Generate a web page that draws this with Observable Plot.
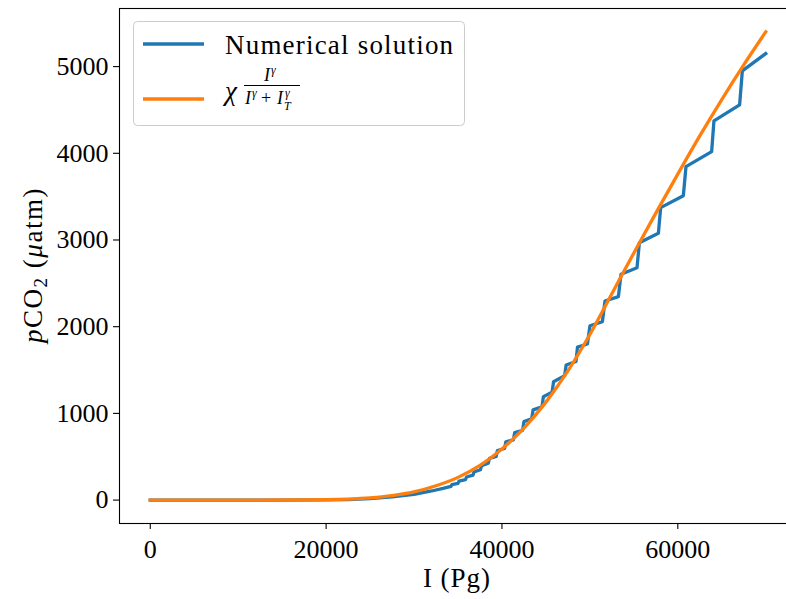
<!DOCTYPE html>
<html>
<head>
<meta charset="utf-8">
<script src="https://cdn.jsdelivr.net/npm/d3@7"></script>
<script src="https://cdn.jsdelivr.net/npm/@observablehq/plot@0.6"></script>
<style>
  html, body { margin: 0; padding: 0; background: white; }
  #wrap { position: relative; width: 786px; height: 599px; overflow: hidden; background: white; }
  #overlay { position: absolute; left: 0; top: 0; }
</style>
</head>
<body>
<div id="wrap"></div>
<script>
// Fitted curve: chi * I^g / (I^g + I_T^g)
const orangeI = [0, 5000, 10000, 15000, 20000, 22500, 25000, 27500, 30000, 32500, 35000, 37500, 40000, 42500, 45000, 47500, 50000, 52500, 55000, 57500, 60000, 62500, 65000, 67500, 70000];
const orangeP = [0, 0, 0, 1, 5, 12, 26, 52, 95, 165, 262, 400, 590, 830, 1130, 1490, 1910, 2380, 2850, 3310, 3760, 4200, 4620, 5020, 5400];

// Numerical solution (stepped), vertices
const blueI = [0, 10000, 15000, 20000, 22500, 25000, 27500, 30000, 32000, 33300,
  34200, 34300, 35000, 35110, 35850, 35970, 36700, 36820, 37550, 37680,
  38450, 38580, 39350, 39480, 40300, 40440, 41300, 41450, 42350, 42500,
  43380, 43540, 44550, 44710, 45700, 45870, 47130, 47300, 48420, 48590,
  49720, 50010, 51420, 51720, 53240, 53540, 55360, 55630, 57790, 58050,
  60630, 60930, 63850, 64110, 67030, 67340, 70000];
const blueP = [0, 0, 0, 2, 6, 17, 36, 65, 105, 135,
  158, 178, 192, 218, 236, 266, 288, 324, 350, 398,
  425, 482, 505, 572, 595, 672, 695, 778, 805, 905,
  938, 1040, 1075, 1192, 1245, 1365, 1435, 1558, 1598, 1765,
  1800, 2011, 2057, 2296, 2346, 2604, 2680, 2969, 3077, 3373,
  3511, 3846, 4019, 4373, 4558, 4950, 5150];

const xTicks = [0, 20000, 40000, 60000];
const yTicks = [0, 1000, 2000, 3000, 4000, 5000];

const seriesNames = ["Numerical solution", "fit"];
const colors = ["#1f77b4", "#ff7f0e"];

const blueData = blueI.map((I, i) => ({I, p: blueP[i]}));
const orangeData = orangeI.map((I, i) => ({I, p: orangeP[i]}));

const chart = Plot.plot({
  width: 786,
  height: 599,
  marginLeft: 119,
  marginRight: -10,
  marginTop: 8,
  marginBottom: 76,
  x: {domain: [-3500, 73500]},
  y: {domain: [-270, 5670]},
  style: {fontFamily: "'Liberation Serif', serif", fontSize: "26px", color: "black", background: "white"},
  marks: [
    Plot.line(blueData, {x: "I", y: "p", stroke: colors[0], strokeWidth: 3.3, strokeLinejoin: "round", strokeLinecap: "square"}),
    Plot.line(orangeData, {x: "I", y: "p", stroke: colors[1], strokeWidth: 3.3, curve: "monotone-x", strokeLinecap: "square"}),
    Plot.frame({stroke: "black", strokeWidth: 1.1}),
    Plot.axisX({ticks: xTicks, tickSize: 6, tickPadding: 10, tickFormat: d3.format("d"), label: null, fontSize: 26, strokeWidth: 1.1}),
    Plot.axisY({ticks: yTicks, tickSize: 6, tickPadding: 5, tickFormat: d3.format("d"), label: null, fontSize: 26, strokeWidth: 1.1})
  ]
});

const wrap = document.getElementById("wrap");
wrap.appendChild(chart);

const ns = "http://www.w3.org/2000/svg";
const ov = document.createElementNS(ns, "svg");
ov.setAttribute("id", "overlay");
ov.setAttribute("width", 786);
ov.setAttribute("height", 599);
ov.setAttribute("font-family", "'Liberation Serif', serif");
ov.innerHTML = `
  <text x="457" y="587" font-size="27" text-anchor="middle" fill="black" letter-spacing="1">I (Pg)</text>
  <text transform="translate(42,265) rotate(-90)" font-size="27" text-anchor="middle" fill="black" letter-spacing="1.5"><tspan font-style="italic">p</tspan>CO<tspan font-size="19" dy="5">2</tspan><tspan dy="-5"> (</tspan><tspan font-style="italic">μ</tspan>atm)</text>
  <rect x="133.5" y="21.5" width="331" height="104" rx="4" fill="white" fill-opacity="0.8" stroke="#cccccc" stroke-width="1"></rect>
  <line x1="143" y1="44" x2="204" y2="44" stroke="${colors[0]}" stroke-width="3.3"></line>
  <line x1="143" y1="99" x2="204" y2="99" stroke="${colors[1]}" stroke-width="3.3"></line>
  <text x="225" y="54" font-size="27" fill="black" letter-spacing="1.2">${seriesNames[0]}</text>
  <text x="225" y="100" font-size="27" font-style="italic" fill="black">χ</text>
  <text x="264" y="81" font-size="18" font-style="italic" fill="black">I</text>
  <text x="271" y="74" font-size="12" font-style="italic" fill="black">γ</text>
  <line x1="244" y1="85.5" x2="300" y2="85.5" stroke="black" stroke-width="1"></line>
  <text x="245" y="104" font-size="18" font-style="italic" fill="black">I</text>
  <text x="252" y="97" font-size="12" font-style="italic" fill="black">γ</text>
  <text x="261" y="104" font-size="18" fill="black">+</text>
  <text x="277" y="104" font-size="18" font-style="italic" fill="black">I</text>
  <text x="285" y="97" font-size="12" font-style="italic" fill="black">γ</text>
  <text x="284" y="110" font-size="12" font-style="italic" fill="black">T</text>
`;
wrap.appendChild(ov);
</script>
</body>
</html>
